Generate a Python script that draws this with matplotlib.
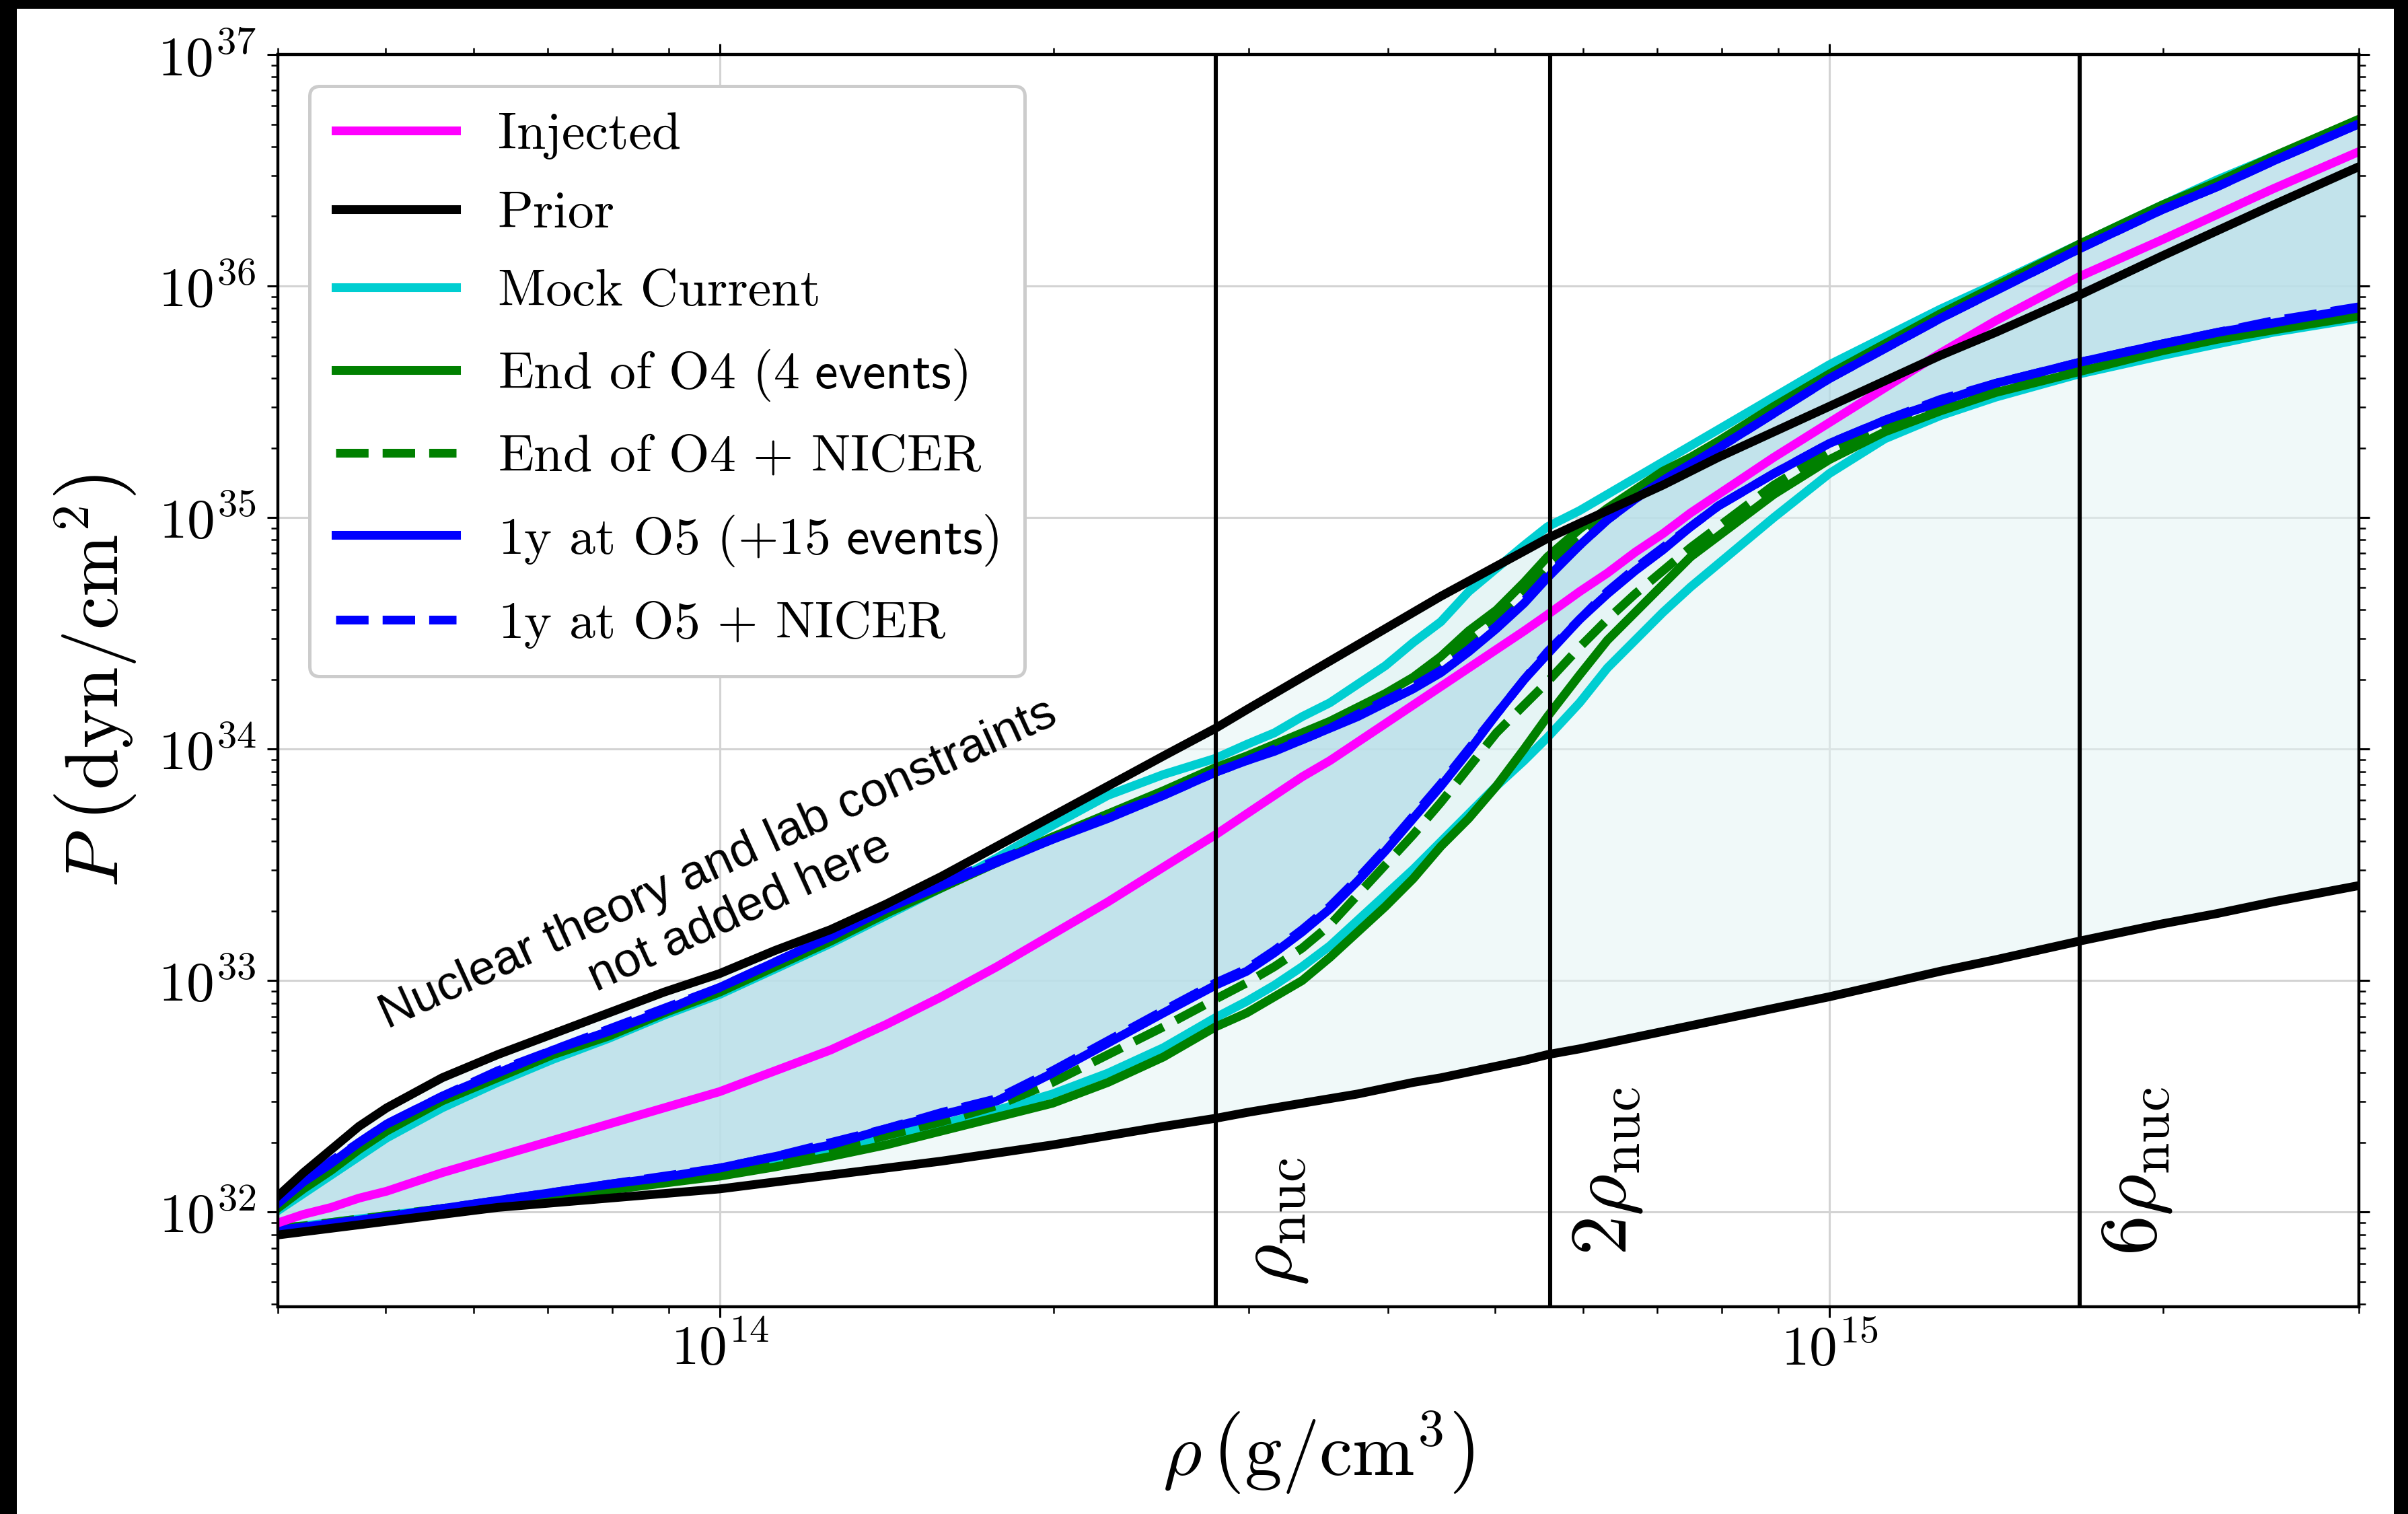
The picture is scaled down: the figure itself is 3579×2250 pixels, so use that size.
import numpy as np
import matplotlib
matplotlib.use('Agg')
import matplotlib.pyplot as plt
from matplotlib.patches import Rectangle
from matplotlib.ticker import NullFormatter

plt.rcParams['font.family'] = 'serif'
plt.rcParams['font.serif'] = ['cmr10']
plt.rcParams['mathtext.fontset'] = 'cm'
plt.rcParams['axes.unicode_minus'] = False
plt.rcParams['axes.formatter.use_mathtext'] = True

# density grid, log10(rho / g cm^-3)
log_rho = [13.60, 13.625, 13.65, 13.675, 13.70, 13.75, 13.80, 13.85, 13.90, 13.95,
           14.00, 14.05, 14.10, 14.15, 14.20, 14.25, 14.30, 14.35, 14.40, 14.447,
           14.475, 14.50, 14.525, 14.55, 14.575, 14.60, 14.625, 14.65, 14.675, 14.70,
           14.725, 14.746, 14.775, 14.80, 14.825, 14.85, 14.875, 14.90, 14.95, 15.00,
           15.05, 15.10, 15.15, 15.225, 15.30, 15.35, 15.40, 15.477]

# log10(P / dyn cm^-2)
injected = [31.95, 31.99, 32.02, 32.06, 32.09, 32.17, 32.24, 32.31, 32.38, 32.45,
            32.52, 32.61, 32.70, 32.81, 32.93, 33.06, 33.20, 33.34, 33.49, 33.63,
            33.72, 33.80, 33.88, 33.95, 34.03, 34.11, 34.19, 34.27, 34.35, 34.43,
            34.51, 34.58, 34.68, 34.76, 34.85, 34.93, 35.02, 35.10, 35.26, 35.41,
            35.56, 35.71, 35.85, 36.04, 36.20, 36.31, 36.42, 36.58]
prior_hi = [32.06, 32.17, 32.27, 32.37, 32.45, 32.58, 32.68, 32.77, 32.86, 32.95,
            33.03, 33.13, 33.22, 33.33, 33.45, 33.58, 33.71, 33.84, 33.97, 34.09,
            34.17, 34.24, 34.31, 34.38, 34.45, 34.52, 34.59, 34.66, 34.725, 34.79,
            34.855, 34.91, 34.975, 35.03, 35.085, 35.14, 35.20, 35.26, 35.37, 35.48,
            35.59, 35.70, 35.80, 35.96, 36.13, 36.24, 36.35, 36.515]
prior_lo = [31.90, 31.915, 31.93, 31.945, 31.96, 31.99, 32.02, 32.04, 32.06, 32.08,
            32.10, 32.13, 32.16, 32.19, 32.22, 32.255, 32.29, 32.33, 32.37, 32.405,
            32.43, 32.45, 32.47, 32.49, 32.51, 32.535, 32.56, 32.58, 32.605, 32.63,
            32.655, 32.68, 32.705, 32.73, 32.755, 32.78, 32.805, 32.83, 32.88, 32.93,
            32.985, 33.04, 33.09, 33.17, 33.245, 33.29, 33.34, 33.41]
mock_hi = [32.00, 32.08, 32.16, 32.24, 32.32, 32.45, 32.56, 32.66, 32.75, 32.85,
           32.94, 33.05, 33.16, 33.28, 33.40, 33.53, 33.67, 33.80, 33.89, 33.96,
           34.02, 34.07, 34.14, 34.20, 34.28, 34.36, 34.46, 34.55, 34.68, 34.78,
           34.88, 34.96, 35.03, 35.10, 35.17, 35.24, 35.31, 35.38, 35.52, 35.66,
           35.78, 35.90, 36.01, 36.18, 36.35, 36.46, 36.56, 36.71]
mock_lo = [31.93, 31.94, 31.955, 31.97, 31.985, 32.015, 32.045, 32.075, 32.105, 32.135,
           32.17, 32.21, 32.26, 32.33, 32.38, 32.44, 32.51, 32.60, 32.71, 32.84,
           32.91, 32.98, 33.06, 33.15, 33.26, 33.37, 33.48, 33.60, 33.72, 33.84,
           33.95, 34.05, 34.20, 34.35, 34.47, 34.59, 34.70, 34.80, 35.00, 35.19,
           35.34, 35.44, 35.52, 35.62, 35.70, 35.75, 35.80, 35.86]
o4_hi = [32.01, 32.10, 32.18, 32.27, 32.35, 32.48, 32.58, 32.68, 32.76, 32.86,
         32.95, 33.06, 33.17, 33.29, 33.40, 33.51, 33.62, 33.72, 33.82, 33.92,
         33.97, 34.02, 34.07, 34.12, 34.18, 34.24, 34.31, 34.40, 34.51, 34.60,
         34.72, 34.83, 34.95, 35.04, 35.12, 35.20, 35.26, 35.33, 35.48, 35.62,
         35.75, 35.88, 36.00, 36.18, 36.35, 36.45, 36.56, 36.72]
o4_lo = [31.92, 31.935, 31.945, 31.96, 31.975, 32.005, 32.035, 32.065, 32.095, 32.125,
         32.155, 32.195, 32.24, 32.29, 32.35, 32.41, 32.47, 32.56, 32.67, 32.80,
         32.86, 32.93, 33.00, 33.10, 33.21, 33.32, 33.44, 33.58, 33.70, 33.84,
         34.00, 34.14, 34.32, 34.47, 34.59, 34.71, 34.83, 34.92, 35.10, 35.25,
         35.37, 35.46, 35.54, 35.63, 35.72, 35.77, 35.81, 35.87]
o4n_hi = [32.02, 32.11, 32.20, 32.29, 32.37, 32.49, 32.59, 32.69, 32.77, 32.87,
          32.96, 33.07, 33.18, 33.30, 33.41, 33.51, 33.62, 33.71, 33.81, 33.91,
          33.96, 34.01, 34.06, 34.11, 34.16, 34.22, 34.29, 34.37, 34.47, 34.57,
          34.68, 34.79, 34.92, 35.02, 35.10, 35.18, 35.25, 35.32, 35.47, 35.61,
          35.74, 35.87, 35.99, 36.17, 36.34, 36.44, 36.55, 36.71]
o4n_lo = [31.93, 31.94, 31.955, 31.97, 31.985, 32.015, 32.045, 32.08, 32.11, 32.14,
          32.175, 32.22, 32.27, 32.33, 32.39, 32.46, 32.56, 32.68, 32.80, 32.92,
          32.99, 33.06, 33.14, 33.24, 33.37, 33.50, 33.63, 33.77, 33.92, 34.07,
          34.19, 34.29, 34.44, 34.56, 34.67, 34.77, 34.87, 34.96, 35.14, 35.285,
          35.39, 35.48, 35.56, 35.65, 35.73, 35.78, 35.82, 35.875]
o5_hi = [32.03, 32.13, 32.21, 32.30, 32.38, 32.50, 32.60, 32.70, 32.78, 32.87,
         32.97, 33.08, 33.19, 33.31, 33.41, 33.51, 33.61, 33.70, 33.80, 33.90,
         33.95, 33.99, 34.04, 34.09, 34.14, 34.20, 34.26, 34.33, 34.42, 34.52,
         34.63, 34.74, 34.88, 34.99, 35.08, 35.16, 35.23, 35.30, 35.45, 35.60,
         35.73, 35.86, 35.98, 36.16, 36.33, 36.43, 36.54, 36.70]
o5_lo = [31.92, 31.935, 31.95, 31.965, 31.98, 32.015, 32.05, 32.085, 32.12, 32.15,
         32.19, 32.24, 32.29, 32.36, 32.42, 32.48, 32.60, 32.73, 32.86, 32.98,
         33.04, 33.12, 33.21, 33.31, 33.43, 33.56, 33.70, 33.84, 33.99, 34.15,
         34.30, 34.41, 34.56, 34.67, 34.77, 34.86, 34.96, 35.05, 35.19, 35.32,
         35.42, 35.50, 35.58, 35.67, 35.75, 35.80, 35.84, 35.905]
o5n_hi = [32.03, 32.13, 32.22, 32.30, 32.38, 32.50, 32.61, 32.70, 32.79, 32.88,
          32.97, 33.08, 33.19, 33.31, 33.42, 33.52, 33.61, 33.71, 33.80, 33.90,
          33.95, 34.00, 34.04, 34.09, 34.15, 34.21, 34.27, 34.34, 34.43, 34.53,
          34.64, 34.75, 34.88, 34.99, 35.08, 35.16, 35.23, 35.30, 35.45, 35.60,
          35.73, 35.86, 35.98, 36.16, 36.33, 36.43, 36.54, 36.70]
o5n_lo = [31.92, 31.935, 31.95, 31.965, 31.98, 32.015, 32.05, 32.085, 32.12, 32.155,
          32.19, 32.24, 32.30, 32.36, 32.43, 32.49, 32.61, 32.74, 32.87, 32.99,
          33.05, 33.13, 33.22, 33.32, 33.44, 33.57, 33.71, 33.85, 34.00, 34.15,
          34.30, 34.42, 34.56, 34.68, 34.78, 34.87, 34.96, 35.05, 35.19, 35.32,
          35.42, 35.51, 35.58, 35.67, 35.75, 35.80, 35.85, 35.91]

rho_nuc = 2.8e14
nuc_marks = [1, 2, 6]
nuc_labels = [r'$\rho_{\rm nuc}$', r'$2\rho_{\rm nuc}$', r'$6\rho_{\rm nuc}$']
nuc_label_y = [4.8e31, 6.5e31, 6.5e31]

rho = 10 ** np.array(log_rho)
P = lambda v: 10 ** np.array(v)

fig = plt.figure(figsize=(17.9, 11.25), dpi=200)
fig.patch.set_facecolor('black')
fig.add_artist(Rectangle((25 / 3580, 0), (3558 - 25) / 3580, (2250 - 13) / 2250,
                         transform=fig.transFigure, facecolor='white',
                         edgecolor='none', zorder=-10))
ax = fig.add_axes([0.1154, 0.1369, 0.9793 - 0.1154, 0.964 - 0.1369])
ax.set_xscale('log')
ax.set_yscale('log')

ax.grid(True, which='major', color='#d3d3d3', lw=1.1)
ax.set_axisbelow(True)

# shaded bands
ax.fill_between(rho, P(prior_lo), P(prior_hi), color='#e3f5f5', alpha=0.5, lw=0)
ax.fill_between(rho, P(mock_lo), P(mock_hi), color='#d5f0f0', alpha=0.35, lw=0)
ax.fill_between(rho, P(o5_lo), P(o5_hi), color='#add8e6', alpha=0.62, lw=0)

lw = 4.7
h_mock, = ax.plot(rho, P(mock_hi), color='darkturquoise', lw=lw, label='Mock Current')
ax.plot(rho, P(mock_lo), color='darkturquoise', lw=lw)
h_o4, = ax.plot(rho, P(o4_hi), color='green', lw=lw, label=r'End of O4 $\mathsf{(4\ events)}$')
ax.plot(rho, P(o4_lo), color='green', lw=lw)
h_o4n, = ax.plot(rho, P(o4n_hi), color='green', lw=lw, ls='--', label=r'End of O4 $+$ NICER')
ax.plot(rho, P(o4n_lo), color='green', lw=lw, ls='--')
h_o5, = ax.plot(rho, P(o5_hi), color='blue', lw=lw, label=r'1y at O5 $\mathsf{(+15\ events)}$')
ax.plot(rho, P(o5_lo), color='blue', lw=lw)
h_o5n, = ax.plot(rho, P(o5n_hi), color='blue', lw=lw, ls='--', label=r'1y at O5 $+$ NICER')
ax.plot(rho, P(o5n_lo), color='blue', lw=lw, ls='--')
h_inj, = ax.plot(rho, P(injected), color='magenta', lw=lw, label='Injected')
h_pri, = ax.plot(rho, P(prior_hi), color='black', lw=lw, label='Prior')
ax.plot(rho, P(prior_lo), color='black', lw=lw)

for m, lab, ly in zip(nuc_marks, nuc_labels, nuc_label_y):
    ax.axvline(m * rho_nuc, color='black', lw=2.2)
    ax.text(m * rho_nuc * 1.17, ly, lab, rotation=90, rotation_mode='anchor',
            ha='left', va='baseline', fontsize=43)

ax.text(1.02e14, 2.5e33, 'Nuclear theory and lab constraints\nnot added here',
        rotation=24.5, ha='center', va='center', fontsize=26,
        family='Liberation Sans', linespacing=1.2, rotation_mode='anchor')

ax.set_xlim(4e13, 3e15)
ax.set_ylim(3.9e31, 1e37)
ax.xaxis.set_minor_formatter(NullFormatter())
ax.yaxis.set_minor_formatter(NullFormatter())
ax.tick_params(which='both', direction='out', top=True, right=True)
ax.tick_params(which='major', length=5.8, width=1.1, labelsize=30)
ax.tick_params(which='minor', length=3.6, width=0.9)
ax.tick_params(axis='x', which='major', pad=3)
ax.tick_params(axis='y', which='major', pad=6)
for s in ax.spines.values():
    s.set_linewidth(1.6)

ax.set_xlabel(r'$\rho\,\left(\mathrm{g/cm^3}\right)$', fontsize=40, labelpad=18)
ax.set_ylabel(r'$P\;\left(\mathrm{dyn/cm^2}\right)$', fontsize=40, labelpad=10)

leg = ax.legend(handles=[h_inj, h_pri, h_mock, h_o4, h_o4n, h_o5, h_o5n],
                loc='upper left', fontsize=28, handlelength=2.3, handletextpad=0.8,
                labelspacing=0.6, borderpad=0.5, borderaxespad=0.6, fancybox=True,
                framealpha=1, edgecolor='#cccccc')
leg.get_frame().set_linewidth(1.8)

fig.savefig('out.png', dpi=200, facecolor=fig.get_facecolor())
